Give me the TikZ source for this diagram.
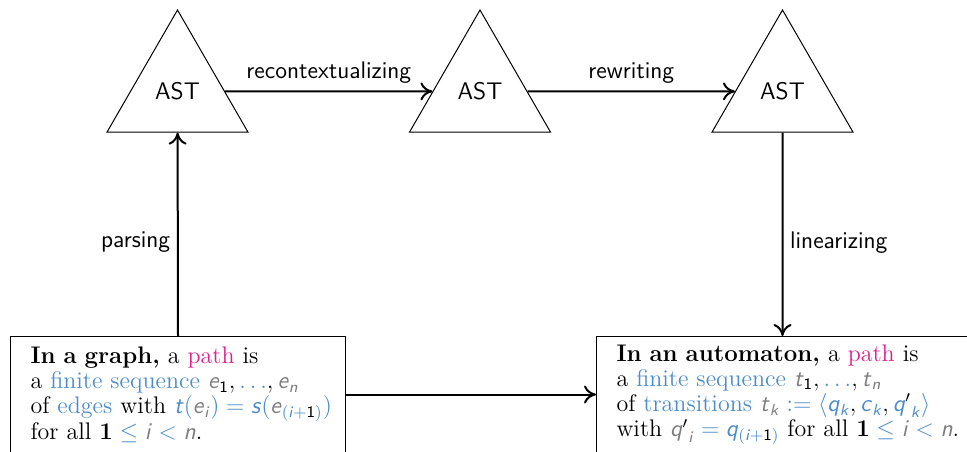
\documentclass[tikz,border=0pt]{standalone}
\usepackage{amsmath}
\usetikzlibrary{shapes.geometric, arrows.meta}

\definecolor{hlblue}{RGB}{77,140,200}
\definecolor{hlpink}{RGB}{228,30,140}
\definecolor{hlgray}{RGB}{125,125,125}

% sans italic variables in gray or blue
\newcommand\gv[1]{\textcolor{hlgray}{\textsf{\textit{#1}}}}
\newcommand\bv[1]{\textcolor{hlblue}{\textsf{\textit{#1}}}}
\newcommand\bl[1]{\textcolor{hlblue}{#1}}
\newcommand\one{\textsf{1}}

\tikzset{
  ast/.style={draw, line width=0.5pt, regular polygon, regular polygon sides=3,
    minimum size=81.4pt, inner sep=0pt, font=\sffamily\fontsize{12}{14}\selectfont},
  defbox/.style={draw, line width=0.5pt, anchor=north west, align=left,
    inner xsep=10pt, inner ysep=0pt, minimum height=58pt,
    font=\fontsize{12}{12.6}\selectfont},
  flow/.style={-{To[length=6pt, width=9pt]}, line width=1pt},
  lbl/.style={font=\sffamily\fontsize{12}{14}\selectfont}
}

\begin{document}
\begin{tikzpicture}[x=0.5pt, y=-0.5pt]
\useasboundingbox (0,0) rectangle (967,451);

\node[ast] (t1) at (177.5,91.4) {AST};
\node[ast] (t2) at (480,91.4) {AST};
\node[ast] (t3) at (782.5,91.4) {AST};

\node[defbox, text width=147.5pt] (b1) at (10,336) {%
\mbox{\textbf{In a graph,} a \textcolor{hlpink}{path} is}\\
\mbox{a \bl{finite sequence} $\gv{e}_{\one}, \bl{\ldots}, \gv{e}_{\gv{n}}$}\\
\mbox{of \bl{edges} with $\bv{t}\bl{(}\gv{e}_{\gv{i}}\bl{)} \mathrel{\bl{=}} \bv{s}\bl{(}\gv{e}_{\bl{(}\bv{i}\bl{+}\one\bl{)}}\bl{)}$}\\
\mbox{for all $\mathbf{1} \mathrel{\bl{\leq}} \gv{i} \mathrel{\bl{<}} \gv{n}$.}};

\node[defbox, text width=170pt] (b2) at (596,336) {%
\mbox{\textbf{In an automaton,} a \textcolor{hlpink}{path} is}\\
\mbox{a \bl{finite sequence} $\gv{t}_{\one}, \bl{\ldots}, \gv{t}_{\gv{n}}$}\\
\mbox{of \bl{transitions} $\gv{t}_{\gv{k}} \mathrel{\bl{:=}} \bl{\langle} \bv{q}_{\bv{k}}, \bv{c}_{\bv{k}}, {\bv{q}'}_{\bv{k}} \bl{\rangle}$}\\
\mbox{with ${\gv{q}'}_{\gv{i}} \mathrel{\bl{=}} \bv{q}_{\bl{(}\bv{i}\bl{+}\one\bl{)}}$ for all $\mathbf{1} \mathrel{\bl{\leq}} \gv{i} \mathrel{\bl{<}} \gv{n}$.}};

\draw[flow] (t1) -- node[lbl, midway, above] {recontextualizing} (t2);
\draw[flow] (t2) -- node[lbl, midway, above] {rewriting} (t3);
\draw[flow] (b1.north) -- node[lbl, midway, left, yshift=-4pt] {parsing} (t1);
\draw[flow] (t3) -- node[lbl, midway, right, yshift=-4pt] {linearizing} (t3 |- b2.north);
\draw[flow] (b1) -- (b2);
\end{tikzpicture}
\end{document}
